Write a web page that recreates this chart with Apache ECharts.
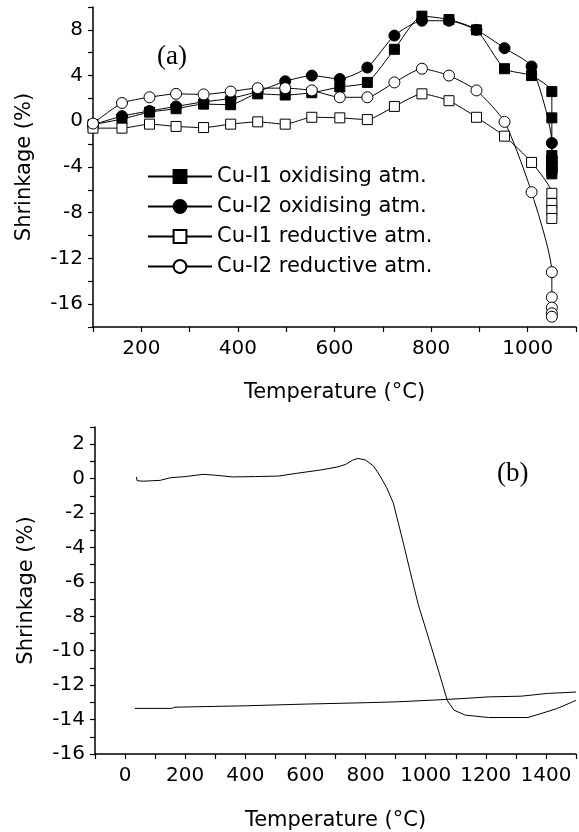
<!DOCTYPE html>
<html>
<head>
<meta charset="utf-8">
<script src="https://cdn.jsdelivr.net/npm/echarts@6/dist/echarts.min.js"></script>
<style>
html,body{margin:0;padding:0;background:#fff;}
#chart{width:579px;height:832px;}
</style>
</head>
<body>
<div id="chart"></div>
<script>
// ---- Panel (a) data: [temperature °C, shrinkage %] ----
const cuI1Oxid = [[100,-0.3],[160,0.2],[217,0.8],[272,1.1],[329,1.5],[385,1.45],[441,2.4],[498,2.3],[553,2.5],[611,3.0],[668,3.4],[724,6.3],[781,9.2],[837,8.9],[894,8.0],[952,4.6],[1008,4.0],[1050,2.6],[1050,0.3],[1050,-3.0],[1050,-3.4],[1050,-3.9],[1050,-4.3],[1050,-4.6]];
const cuI2Oxid = [[100,-0.3],[160,0.45],[217,0.9],[272,1.3],[329,1.7],[385,2.0],[441,2.6],[498,3.5],[553,4.0],[611,3.7],[668,4.7],[724,7.5],[781,8.8],[837,8.8],[894,8.0],[952,6.4],[1008,4.8],[1050,-1.9],[1050,-3.2],[1050,-3.6],[1050,-4.0],[1050,-4.3]];
const cuI1Red = [[100,-0.6],[160,-0.6],[217,-0.25],[272,-0.45],[329,-0.55],[385,-0.25],[441,-0.05],[498,-0.25],[553,0.35],[611,0.3],[668,0.15],[724,1.3],[781,2.4],[837,1.8],[894,0.35],[952,-1.3],[1008,-3.6],[1050,-6.3],[1050,-7.2],[1050,-7.8],[1050,-8.5]];
const cuI2Red = [[100,-0.2],[160,1.6],[217,2.1],[272,2.4],[329,2.35],[385,2.6],[441,2.9],[498,2.9],[553,2.7],[611,2.1],[668,2.1],[724,3.4],[781,4.6],[837,4.0],[894,2.7],[952,-0.05],[1008,-6.2],[1050,-13.2],[1050,-15.4],[1050,-16.3],[1050,-16.8],[1050,-17.1]];
const seriesNamesA = ['Cu-I1 oxidising atm.','Cu-I2 oxidising atm.','Cu-I1 reductive atm.','Cu-I2 reductive atm.'];

// ---- Panel (b) data ----
const heating = [[38,0.1],[40,-0.12],[60,-0.15],[117,-0.1],[150,0.05],[200,0.12],[260,0.25],[300,0.2],[357,0.1],[434,0.12],[510,0.15],[575,0.32],[650,0.5],[707,0.68],[734,0.83],[760,1.1],[775,1.17],[800,1.08],[827,0.73],[850,0.1],[870,-0.52],[892,-1.4],[925,-3.7],[947,-5.3],[975,-7.3],[1012,-9.4],[1045,-11.3],[1072,-12.9],[1094,-13.45],[1132,-13.74],[1209,-13.88],[1340,-13.88],[1384,-13.65],[1438,-13.35],[1489,-12.97],[1500,-12.88]];
const cooling = [[32,-13.35],[155,-13.35],[166,-13.28],[400,-13.2],[600,-13.1],[800,-13.02],[903,-12.97],[1023,-12.87],[1132,-12.77],[1209,-12.68],[1318,-12.64],[1405,-12.48],[1500,-12.4]];

const xTitle = 'Temperature (°C)';
const yTitle = 'Shrinkage (%)';

const SANS = 'DejaVu Sans';
const chart = echarts.init(document.getElementById('chart'), null, {renderer:'canvas'});

const axisCommon = {
  axisLine:{show:true,onZero:false,lineStyle:{color:'#000',width:1.5}},
  axisTick:{show:true,inside:false,length:5,lineStyle:{color:'#000',width:1.2}},
  splitLine:{show:false},
  axisLabel:{color:'#000',fontFamily:SANS,fontSize:20},
  nameTextStyle:{color:'#000',fontFamily:SANS,fontSize:21},
  nameLocation:'middle'
};

function mkSeries(name, data, symbol, size, filled){
  return {
    name, type:'line', xAxisIndex:0, yAxisIndex:0, data,
    symbol, symbolSize:size, showSymbol:true, smooth:0.2,
    lineStyle:{color:'#000',width:1},
    itemStyle:{color: filled ? '#000' : '#fff', borderColor:'#000', borderWidth:1},
    emphasis:{disabled:true}, animation:false, clip:false, z: 3
  };
}

const option = {
  animation:false,
  backgroundColor:'#fff',
  grid:[
    {left:93, top:7, right:0, height:320},
    {left:95, top:427, right:-3, height:327}
  ],
  xAxis:[
    Object.assign({}, axisCommon, {gridIndex:0, type:'value', min:100, max:1100, interval:100,
      name:xTitle, nameGap:55,
      axisLabel:Object.assign({}, axisCommon.axisLabel, {margin:12, formatter:v => (v%200===0 ? String(v) : '')})}),
    Object.assign({}, axisCommon, {gridIndex:1, type:'value', min:-100, max:1500, interval:100,
      name:xTitle, nameGap:56,
      axisLabel:Object.assign({}, axisCommon.axisLabel, {margin:12, formatter:v => (v%200===0 && v>=0 ? String(v) : '')})})
  ],
  yAxis:[
    Object.assign({}, axisCommon, {gridIndex:0, type:'value', min:-18, max:10, interval:2,
      name:yTitle, nameGap:58,
      axisLabel:Object.assign({}, axisCommon.axisLabel, {margin:10, formatter:v => (v%4===0 ? String(v) : '')})}),
    Object.assign({}, axisCommon, {gridIndex:1, type:'value', min:-16, max:3, interval:1,
      name:yTitle, nameGap:58,
      axisLabel:Object.assign({}, axisCommon.axisLabel, {margin:10, formatter:v => (v%2===0 ? String(v) : '')})})
  ],
  legend:{
    show:true, orient:'vertical', left:147, top:166, padding:0,
    itemWidth:64, itemHeight:16, itemGap:9,
    textStyle:{color:'#000',fontFamily:SANS,fontSize:21,lineHeight:21},
    data: seriesNamesA,
    selectedMode:false
  },
  graphic:[
    {type:'text', left:157, top:43, style:{text:'(a)', font:'27px "Liberation Serif"', fill:'#000'}},
    {type:'text', left:497, top:460, style:{text:'(b)', font:'27px "Liberation Serif"', fill:'#000'}}
  ],
  series:[
    mkSeries(seriesNamesA[0], cuI1Oxid, 'rect', 10, true),
    mkSeries(seriesNamesA[1], cuI2Oxid, 'circle', 11, true),
    mkSeries(seriesNamesA[2], cuI1Red, 'rect', 10, false),
    mkSeries(seriesNamesA[3], cuI2Red, 'circle', 11, false),
    {name:'heating', type:'line', xAxisIndex:1, yAxisIndex:1, data:heating, showSymbol:false, symbol:'none',
     lineStyle:{color:'#000',width:1}, animation:false, clip:true},
    {name:'cooling', type:'line', xAxisIndex:1, yAxisIndex:1, data:cooling, showSymbol:false, symbol:'none',
     lineStyle:{color:'#000',width:1}, animation:false, clip:true}
  ]
};
chart.setOption(option);
</script>
</body>
</html>
